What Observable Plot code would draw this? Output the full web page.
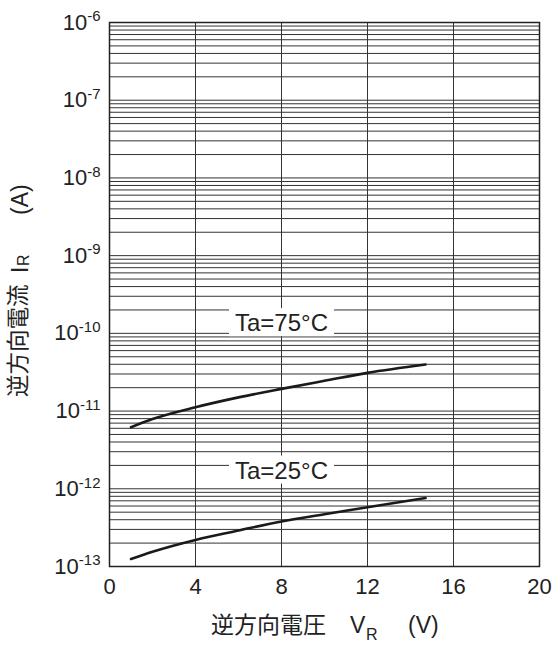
<!DOCTYPE html>
<html><head><meta charset="utf-8">
<script src="https://cdn.jsdelivr.net/npm/d3@7"></script>
<script src="https://cdn.jsdelivr.net/npm/@observablehq/plot@0.6"></script>
<style>body{margin:0;background:#fff;} svg{display:block;}</style>
</head><body><div id="chart"></div>
<script>
const vr75 = [1.0, 2.0, 4.0, 6.0, 8.0, 10.0, 12.0, 14.7];
const ir75 = [6.2e-12, 7.9e-12, 1.12e-11, 1.5e-11, 1.93e-11, 2.45e-11, 3.1e-11, 3.97e-11];
const vr25 = [1.0, 2.0, 4.0, 6.0, 8.0, 10.0, 12.0, 14.7];
const ir25 = [1.25e-13, 1.55e-13, 2.2e-13, 2.9e-13, 3.8e-13, 4.7e-13, 5.8e-13, 7.6e-13];
const xTicks = [0, 4, 8, 12, 16, 20];
const yTicks = [1e-13, 1e-12, 1e-11, 1e-10, 1e-9, 1e-8, 1e-7, 1e-6];
const yExps = ["-13", "-12", "-11", "-10", "-9", "-8", "-7", "-6"];
const labels = [{v: 8, i: 1.34e-10, t: "Ta=75°C"}, {v: 8, i: 1.7e-12, t: "Ta=25°C"}];

const minor = [];
for (let k = -13; k < -6; k++) for (let m = 1; m <= 9; m++) minor.push(m * Math.pow(10, k));
minor.push(1e-6);

const d75 = vr75.map((v, j) => ({v, i: ir75[j]}));
const d25 = vr25.map((v, j) => ({v, i: ir25[j]}));

const font = "'Liberation Sans', Arial, sans-serif";
const svg = Plot.plot({
  width: 553, height: 646,
  marginLeft: 109, marginRight: 14, marginTop: 22, marginBottom: 80,
  style: {fontFamily: font, fontSize: "22px", color: "#222", background: "#fff"},
  x: {domain: [0, 20], ticks: xTicks, tickSize: 0, tickPadding: 12, label: null},
  y: {type: "log", domain: [1e-13, 1e-6], ticks: yTicks, tickSize: 0, tickPadding: 9, label: null, tickFormat: d => "10"},
  marks: [
    Plot.ruleY(minor, {stroke: "#333", strokeWidth: 1}),
    Plot.ruleX(xTicks.slice(1, -1), {stroke: "#333", strokeWidth: 1}),
    Plot.frame({stroke: "#222", strokeWidth: 1.5}),
    Plot.line(d75, {x: "v", y: "i", curve: "monotone-x", stroke: "#1a1a1a", strokeWidth: 2.6}),
    Plot.line(d25, {x: "v", y: "i", curve: "monotone-x", stroke: "#1a1a1a", strokeWidth: 2.6}),
    Plot.text(labels, {x: "v", y: "i", text: "t", fontSize: 24, fill: "#222", fontFamily: font, className: "curve-label"})
  ]
});
document.getElementById("chart").appendChild(svg);

const s = d3.select(svg);
// white boxes behind curve labels
s.selectAll(".curve-label text").each(function() {
  const b = this.getBBox();
  d3.select(this.parentNode).insert("rect", () => this)
    .attr("x", b.x - 6).attr("y", b.y - 1).attr("width", b.width + 12).attr("height", b.height + 1)
    .attr("fill", "white").attr("transform", this.getAttribute("transform"));
});

// superscript exponents on y tick labels
s.selectAll("[aria-label='y-axis tick label'] text").each(function(d, idx) {
  const t = d3.select(this);
  const e = yExps[yTicks.indexOf(d)] ?? yExps[idx];
  t.text("10");
  t.append("tspan").attr("dy", "-0.55em").attr("font-size", "15px").text(e);
  t.attr("font-size", "22px");
});

const cjk = "'Noto Sans CJK JP', 'Liberation Sans', sans-serif";
function part(g, x, y, txt, ff, fs) {
  return g.append("text").attr("x", x).attr("y", y).attr("font-family", ff)
    .attr("text-anchor", "start").attr("font-size", fs).attr("fill", "#222").text(txt);
}
// x axis title
const xg = s.append("g").attr("text-anchor", "start");
part(xg, 211, 633, "逆方向電圧", cjk, "23px");
part(xg, 350, 633, "V", font, "23px");
part(xg, 366, 640, "R", font, "16px");
part(xg, 408, 633, "(V)", font, "23px");
// y axis title (rotated)
const yg = s.append("g").attr("text-anchor", "start").attr("transform", "translate(26,0) rotate(-90)");
part(yg, -397, 0, "逆方向電流", cjk, "22.5px");
part(yg, -273, 2, "I", font, "23px");
part(yg, -266, 3, "R", font, "16px");
part(yg, -215, 2, "(A)", font, "23px");
</script></body></html>
